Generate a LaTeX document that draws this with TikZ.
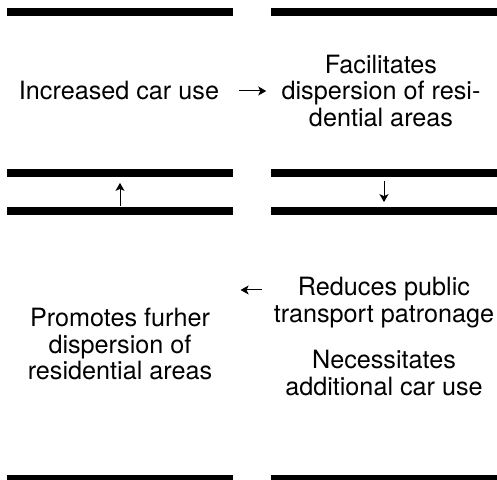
\documentclass[tikz,border=0pt]{standalone}
\usepackage{fontspec}
\setmainfont{TeX Gyre Heros}
\usetikzlibrary{positioning, arrows.meta}
\tikzset{
  barbox/.style  = {fill=black, inner sep=0pt,
                    minimum width=113pt, minimum height=4pt},
  loopbox/.style = {inner sep=0pt, align=center,
                    font=\fontsize{12.6pt}{13.2pt}\selectfont},
  looparr/.style = {-{Stealth[length=4pt, width=4.5pt, inset=1pt]},
                    line width=0.5pt},
}
\begin{document}
\begin{tikzpicture}[x=0.5pt, y=-0.5pt]
        \useasboundingbox (0,0) rectangle (497,480);
        \node[barbox] (lt) at (120,12) {};
        \node[barbox] (rt) at (384,12) {};
        \node[barbox] (lm1) at (120,173.5) {};
        \node[barbox] (rm1) at (384,173.5) {};
        \node[barbox] (lm2) at (120,211.5) {};
        \node[barbox] (rm2) at (384,211.5) {};
        \node[barbox] (lb) at (120,479) {};
        \node[barbox] (rb) at (384,479) {};
        \node[loopbox] (inc) at (119,91) {Increased car use};
        \node[loopbox] (fac) at (381,91) {Facilitates\\dispersion of resi-\\dential areas};
        \node[loopbox] (pro) at (120,344) {Promotes furher\\dispersion of\\residential areas};
        \node[loopbox, anchor=north] (red) at (384,277) {Reduces public\\transport patronage};
        \node[loopbox, below=11pt of red] (nec) {Necessitates\\additional car use};
        \draw[looparr, shorten <=10pt, shorten >=7.5pt] (inc.east) -- (inc.east -| fac.west);
        \draw[looparr, shorten <=0.5pt, shorten >=2.5pt] (lm2.north) -- (lm1.south);
        \draw[looparr, shorten <=1.5pt, shorten >=2.5pt] (rm1.south) -- (rm2.north);
        \draw[looparr, shorten <=5.5pt, shorten >=14pt] ([yshift=-6.5pt]red.north west) -- ([yshift=-6.5pt]red.north west -| pro.east);
      \end{tikzpicture}
\end{document}
